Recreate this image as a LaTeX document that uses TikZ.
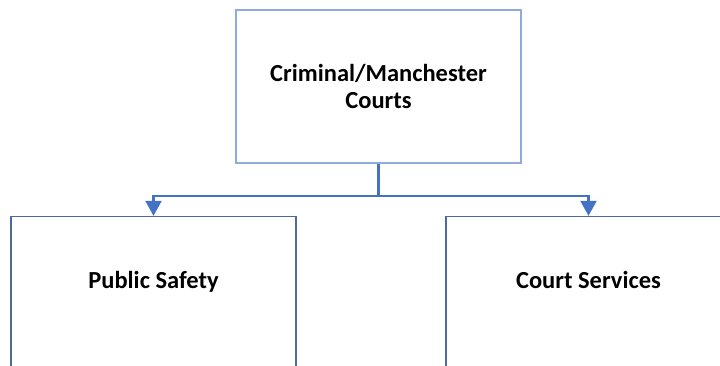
\documentclass[tikz,border=0pt]{standalone}
\usepackage{fontspec}
\setmainfont{Carlito}
\usetikzlibrary{arrows.meta,positioning}
\definecolor{toplinecol}{HTML}{8FAADC}
\definecolor{boxlinecol}{HTML}{4D6A9C}
\definecolor{linkcol}{HTML}{4472C4}

\begin{document}
\begin{tikzpicture}[
    x=1pt, y=-1pt,
    every node/.style={font=\fontsize{24.5}{27}\selectfont\bfseries},
    head/.style={draw=toplinecol, line width=1.3pt, align=center, minimum width=285pt, minimum height=153pt, inner sep=0pt},
    branch/.style={draw=boxlinecol, line width=1.3pt, align=center, minimum width=285pt, minimum height=153pt, inner sep=0pt, text height=17pt, text depth=27pt},
    link/.style={draw=linkcol, line width=2.2pt},
    tip/.style={-{Triangle[length=15pt, width=16pt]}}
]
\clip (0,0) rectangle (720,365);
\node[head] (courts) at (378.5,86.5) {Criminal/Manchester\\Courts};
\node[branch] (safety) at (153.5,293) {Public Safety};
\node[branch] (services) at (588.5,293) {Court Services};
\coordinate (split) at ([yshift=-32pt]courts.south);
\draw[link] (courts.south) -- (split);
\draw[link, tip] (split) -| (safety.north);
\draw[link, tip] (split) -| (services.north);
\end{tikzpicture}
\end{document}
